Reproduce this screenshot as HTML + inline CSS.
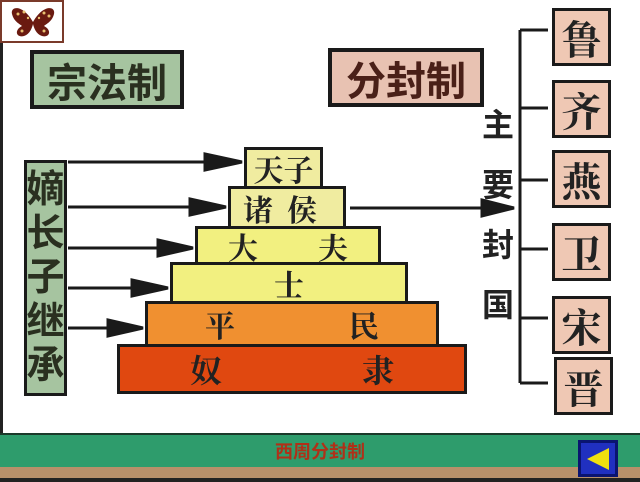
<!DOCTYPE html>
<html><head><meta charset="utf-8"><style>
body{margin:0;width:640px;height:482px;overflow:hidden;background:#fff;position:relative;font-family:"Liberation Sans","Noto Sans CJK SC",sans-serif}
.a{position:absolute;box-sizing:border-box}
.t{display:flex;align-items:center;justify-content:center;font-weight:bold;color:#111}
.lv{border:3px solid #1a1a1a;position:absolute;box-sizing:border-box;display:flex;align-items:center;font-weight:bold;color:#222;font-family:"Noto Serif CJK SC","Noto Sans CJK SC",serif}
.rb{position:absolute;box-sizing:border-box;border:3px solid #1a1a1a;background:#efc8b4;width:59px;height:58px;left:552px;font-size:40px;display:flex;align-items:center;justify-content:center;font-weight:bold;font-family:"Noto Serif CJK SC","Noto Sans CJK SC",serif;color:#222}
</style></head><body>
<div class="a" style="left:0;top:0;width:3px;height:433px;background:#222"></div>
<div class="a" style="left:0;top:0;width:64px;height:43px;border:2px solid #7a3a2a;background:#fff"></div>
<svg class="a" style="left:8px;top:4px" width="50" height="34"><path d="M25 18 C15 0 2 2 4 10 C6 18 12 20 14 22 C6 26 8 34 16 32 C22 30 24 24 25 20 C26 24 28 30 34 32 C42 34 44 26 36 22 C38 20 44 18 46 10 C48 2 35 0 25 18Z" fill="#6a1a10"/><g fill="#e8c070"><circle cx="10" cy="10" r="1.5"/><circle cx="16" cy="8" r="1.5"/><circle cx="36" cy="9" r="1.5"/><circle cx="41" cy="12" r="1.5"/><circle cx="14" cy="27" r="1.5"/><circle cx="36" cy="27" r="1.5"/><circle cx="20" cy="14" r="1.2"/><circle cx="31" cy="14" r="1.2"/></g></svg>

<div class="a t" style="left:30px;top:50px;width:154px;height:59px;border:4px solid #1a1a1a;background:#a6c4a0;font-size:40px;color:#2a3020">宗法制</div>
<div class="a t" style="left:328px;top:48px;width:156px;height:59px;border:4px solid #1a1a1a;background:#e8c2b2;font-size:40px;color:#4a2018">分封制</div>
<div class="a t" style="left:24px;top:160px;width:43px;height:236px;border:3px solid #1a1a1a;background:#a6c4a0;font-size:38px;line-height:44px;flex-direction:column;color:#2a3020">嫡<br>长<br>子<br>继<br>承</div>

<div class="lv" style="left:244px;top:147px;width:79px;height:42px;background:#f0eca0;font-size:30px;justify-content:center">天子</div>
<div class="lv" style="left:228px;top:186px;width:118px;height:43px;background:#f0eca0;font-size:30px;justify-content:center;letter-spacing:14px">诸侯</div>
<div class="lv" style="left:195px;top:226px;width:186px;height:39px;background:#f2f080;font-size:30px;justify-content:space-around">
<span>大</span><span>夫</span></div>
<div class="lv" style="left:170px;top:262px;width:238px;height:42px;background:#f2f080;font-size:30px;justify-content:center">士</div>
<div class="lv" style="left:145px;top:301px;width:294px;height:46px;background:#f09030;font-size:30px;justify-content:space-around"><span>平</span><span>民</span></div>
<div class="lv" style="left:117px;top:344px;width:350px;height:50px;background:#e04810;font-size:32px;justify-content:space-around"><span>奴</span><span>隶</span></div>

<svg class="a" style="left:0;top:0" width="640" height="433">
<g stroke="#1a1a1a" stroke-width="3" fill="#1a1a1a">
<line x1="68" y1="162" x2="215" y2="162"/><polygon points="205,154 242,162 205,170"/>
<line x1="68" y1="207" x2="200" y2="207"/><polygon points="190,199 226,207 190,215"/>
<line x1="68" y1="248" x2="165" y2="248"/><polygon points="158,240 193,248 158,256"/>
<line x1="68" y1="288" x2="140" y2="288"/><polygon points="132,280 168,288 132,296"/>
<line x1="68" y1="328" x2="115" y2="328"/><polygon points="108,320 143,328 108,336"/>
<line x1="350" y1="208" x2="490" y2="208"/><polygon points="482,200 514,208 482,216"/>
<g fill="none"><line x1="520" y1="30" x2="520" y2="383"/>
<line x1="520" y1="30" x2="548" y2="30"/><line x1="520" y1="108" x2="548" y2="108"/>
<line x1="520" y1="180" x2="548" y2="180"/><line x1="520" y1="249" x2="548" y2="249"/>
<line x1="520" y1="318" x2="548" y2="318"/><line x1="520" y1="383" x2="548" y2="383"/></g>
</g></svg>
<div class="a t" style="left:480px;top:100px;width:36px;height:230px;flex-direction:column;font-size:32px;line-height:60px;color:#222">主<br>要<br>封<br>国</div>

<div class="rb" style="top:8px">鲁</div>
<div class="rb" style="top:80px">齐</div>
<div class="rb" style="top:150px">燕</div>
<div class="rb" style="top:223px">卫</div>
<div class="rb" style="top:296px">宋</div>
<div class="rb" style="top:357px;left:554px">晋</div>

<div class="a" style="left:0;top:433px;width:640px;height:34px;background:#2e9c6c;border-top:2px solid #1a3a2a"></div>
<div class="a t" style="left:220px;top:437px;width:200px;height:28px;font-size:18px;color:#b03018">西周分封制</div>
<div class="a" style="left:0;top:467px;width:640px;height:11px;background:#b8906a"></div>
<div class="a" style="left:0;top:478px;width:640px;height:4px;background:#222"></div>
<div class="a" style="left:578px;top:440px;width:40px;height:37px;background:#2030c0;border:3px solid #0a1470"></div>
<svg class="a" style="left:585px;top:446px" width="28" height="26"><polygon points="2,13 24,2 24,24" fill="#f0e010"/></svg>
</body></html>
